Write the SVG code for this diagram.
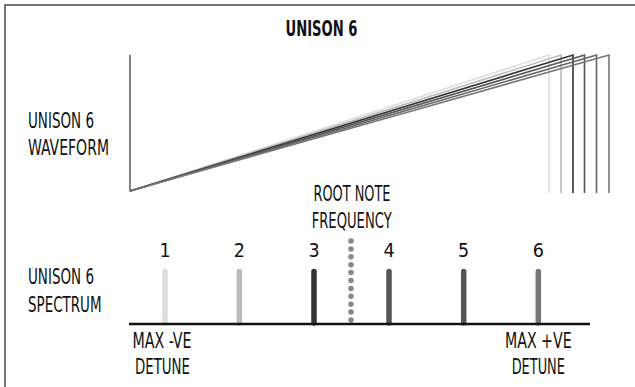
<svg xmlns="http://www.w3.org/2000/svg" width="635" height="387" viewBox="0 0 635 387">
<style>
text{font-family:"Liberation Sans Narrow","DejaVu Sans Condensed","Liberation Sans",sans-serif;font-size:21.5px;fill:#111;}
.t{font-weight:bold;}
.m{text-anchor:middle;}
.n{font-size:19.5px;}
.saw{fill:none;stroke-width:1.6;stroke-linejoin:miter;}
.bar{stroke-width:5.5;stroke-linecap:round;}
</style>
<rect x="5" y="5" width="700" height="500" fill="#fff" stroke="#555" stroke-width="1.6"/>
<g id="title"><text class="t m" x="321.5" y="36" textLength="72" lengthAdjust="spacingAndGlyphs">UNISON 6</text></g>
<g id="waveform-label">
<text x="28" y="128" textLength="66" lengthAdjust="spacingAndGlyphs">UNISON 6</text>
<text x="28" y="155" textLength="81" lengthAdjust="spacingAndGlyphs">WAVEFORM</text>
</g>
<g id="spectrum-label">
<text x="28" y="283.5" textLength="66" lengthAdjust="spacingAndGlyphs">UNISON 6</text>
<text x="28" y="311.5" textLength="73.5" lengthAdjust="spacingAndGlyphs">SPECTRUM</text>
</g>
<g id="waveform">
<line x1="130" y1="55" x2="130" y2="191.5" stroke="#666" stroke-width="1.6"/>
<polyline class="saw" stroke="#ddd" points="130,191 549,55 549,193"/>
<polyline class="saw" stroke="#bbb" points="130,191 561,55 561,193"/>
<polyline class="saw" stroke="#333" points="130,191 573,55 573,193"/>
<polyline class="saw" stroke="#555" points="130,191 584.5,55 584.5,193"/>
<polyline class="saw" stroke="#666" points="130,191 596.5,55 596.5,193"/>
<polyline class="saw" stroke="#777" points="130,191 609,55 609,193"/>
</g>
<g id="root-note">
<text class="m" x="352" y="200.5" textLength="77" lengthAdjust="spacingAndGlyphs">ROOT NOTE</text>
<text class="m" x="351.7" y="228.3" textLength="80" lengthAdjust="spacingAndGlyphs">FREQUENCY</text>
<line x1="351" y1="241" x2="351" y2="321" stroke="#888" stroke-width="5.5" stroke-linecap="round" stroke-dasharray="0 7.9"/>
</g>
<g id="spectrum">
<line class="bar" stroke="#ddd" x1="165" y1="271.5" x2="165" y2="323"/>
<line class="bar" stroke="#bbb" x1="239.3" y1="271.5" x2="239.3" y2="323"/>
<line class="bar" stroke="#333" x1="314" y1="271.5" x2="314" y2="323"/>
<line class="bar" stroke="#555" x1="389" y1="271.5" x2="389" y2="323"/>
<line class="bar" stroke="#555" x1="463.7" y1="271.5" x2="463.7" y2="323"/>
<line class="bar" stroke="#777" x1="538.3" y1="271.5" x2="538.3" y2="323"/>
<text class="m n" x="165" y="257">1</text>
<text class="m n" x="239.3" y="257">2</text>
<text class="m n" x="314" y="257">3</text>
<text class="m n" x="389" y="257">4</text>
<text class="m n" x="463.7" y="257">5</text>
<text class="m n" x="538.3" y="257">6</text>
</g>
<g id="axis">
<line x1="129" y1="324" x2="590" y2="324" stroke="#111" stroke-width="2.5"/>
</g>
<g id="min-label">
<text class="m" x="162" y="348.3" textLength="59" lengthAdjust="spacingAndGlyphs">MAX -VE</text>
<text class="m" x="162.5" y="374" textLength="55" lengthAdjust="spacingAndGlyphs">DETUNE</text>
</g>
<g id="max-label">
<text class="m" x="538.3" y="348.3" textLength="66.7" lengthAdjust="spacingAndGlyphs">MAX +VE</text>
<text class="m" x="538.3" y="374" textLength="53.3" lengthAdjust="spacingAndGlyphs">DETUNE</text>
</g>
</svg>
